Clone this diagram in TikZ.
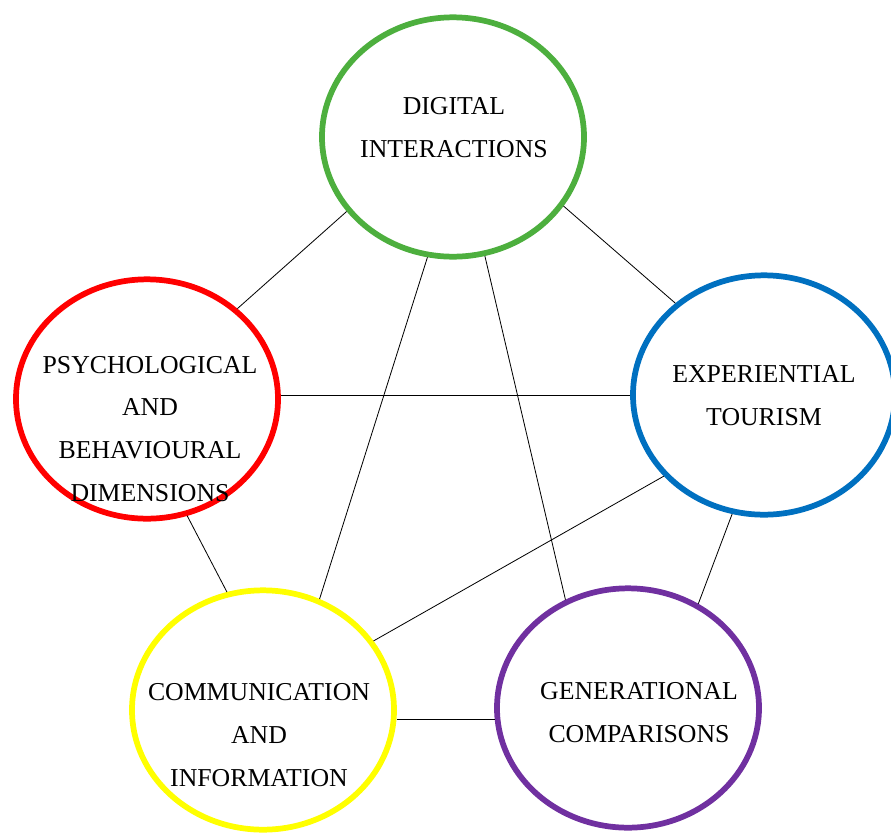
\documentclass[tikz,border=0pt]{standalone}
\usepackage{fontspec}
\setmainfont{Liberation Serif}
\usepackage{tikz}
\usetikzlibrary{shapes, arrows, calc, positioning}
\definecolor{digitalgreen}{RGB}{77,175,62}
\definecolor{psychred}{RGB}{255,0,0}
\definecolor{tourismblue}{RGB}{0,112,192}
\definecolor{commyellow}{RGB}{255,255,0}
\definecolor{generpurple}{RGB}{112,48,160}
\tikzstyle{topic} = [ellipse, line width=4.9pt, minimum width=7.86cm, minimum height=7.18cm, inner sep=0pt]
\tikzstyle{topictext} = [align=center, font=\fontsize{22}{36.6}\selectfont, inner sep=0pt]
\tikzstyle{link} = [line width=0.7pt, black]

\begin{document}
\begin{tikzpicture}[x=0.03cm, y=-0.03cm]
            \useasboundingbox (0,0) rectangle (891,832);

            % the five themes
            \node [topic, draw=digitalgreen] at (453,137) (digital) {};
            \node [topic, draw=psychred] at (147,399) (psych) {};
            \node [topic, draw=tourismblue] at (764,395) (tourism) {};
            \node [topic, draw=commyellow] at (263,710) (comm) {};
            \node [topic, draw=generpurple] at (628,708) (gener) {};

            \node [topictext] at (454,128) (digital-txt) {DIGITAL\\INTERACTIONS};
            \node [topictext] at (150,429) (psych-txt) {PSYCHOLOGICAL\\AND\\BEHAVIOURAL\\DIMENSIONS};
            \node [topictext] at (764,396) (tourism-txt) {EXPERIENTIAL\\TOURISM};
            \node [topictext] at (259,735) (comm-txt) {COMMUNICATION\\AND\\INFORMATION};
            \node [topictext] at (639,713) (gener-txt) {GENERATIONAL\\COMPARISONS};

            % links
            \draw [link] (digital.215) -- (psych.45);
            \draw [link] (digital.328) -- (tourism.134);
            \draw [link] (digital.258) -- (comm.63);
            \draw [link] (digital.285) -- (gener.120);
            \draw [link] (tourism.west) -- (tourism.west -| psych.east);
            \draw [link] (psych.289) -- (comm.107);
            \draw [link] (tourism.219) -- (comm.32);
            \draw [link] (tourism.255) -- (gener.56);
            \draw [link] (gener.185) -- (gener.185 -| comm.east);
          \end{tikzpicture}
\end{document}
